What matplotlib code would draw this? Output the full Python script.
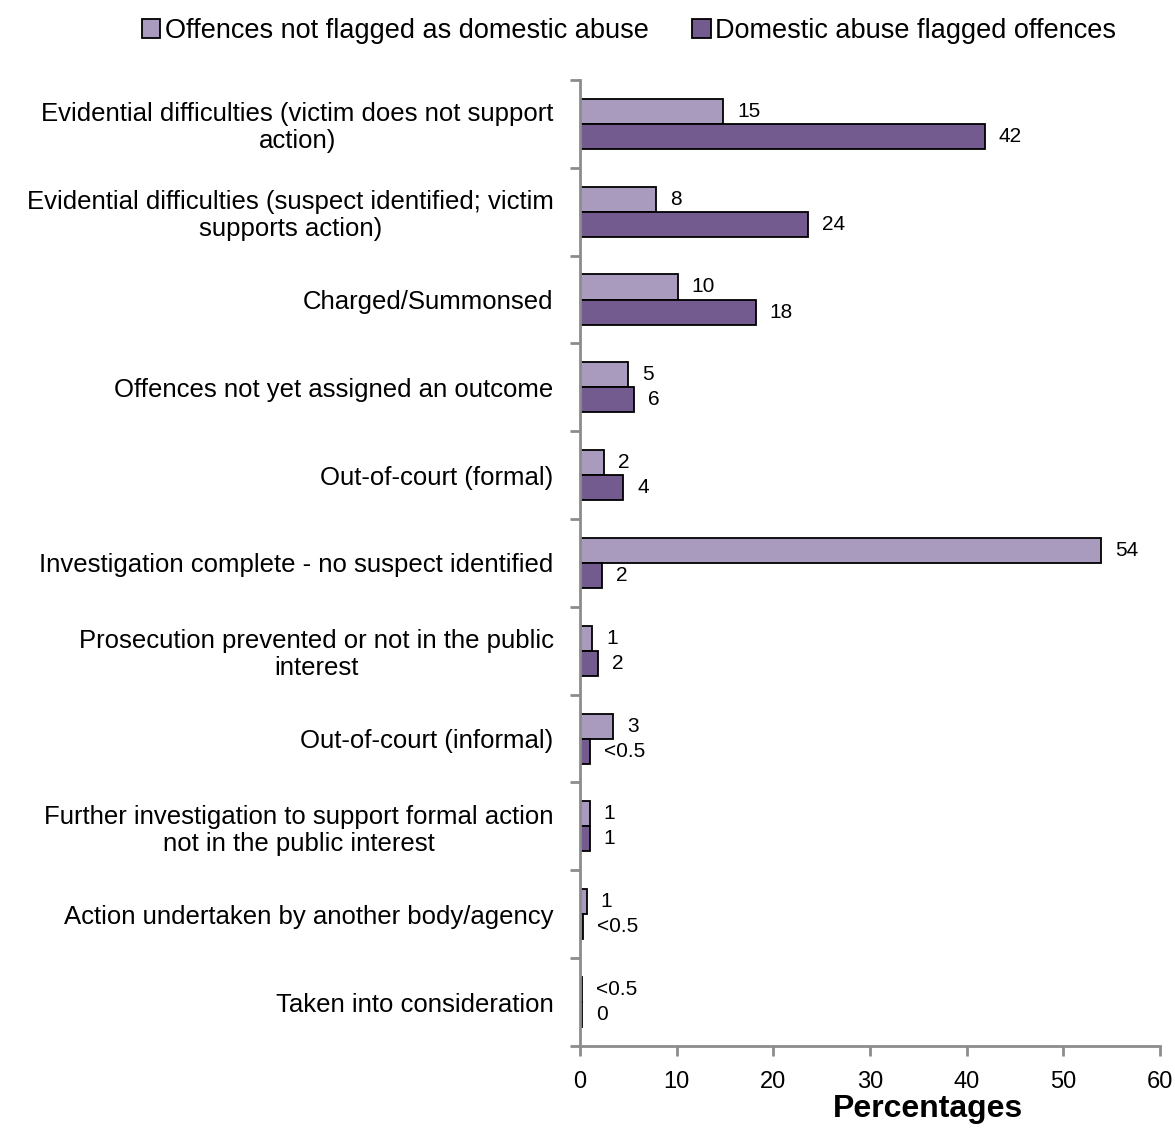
import numpy as np
import matplotlib
matplotlib.use("Agg")
import matplotlib.pyplot as plt
from matplotlib.patches import Patch

plt.rcParams['font.family'] = ['Liberation Sans', 'DejaVu Sans']

# Datos (porcentajes)
categories = [
    "Evidential difficulties (victim does not support\naction)",
    "Evidential difficulties (suspect identified; victim\nsupports action)",
    "Charged/Summonsed",
    "Offences not yet assigned an outcome",
    "Out-of-court (formal)",
    "Investigation complete - no suspect identified",
    "Prosecution prevented or not in the public\ninterest",
    "Out-of-court (informal)",
    "Further investigation to support formal action\nnot in the public interest",
    "Action undertaken by another body/agency",
    "Taken into consideration",
]
not_flagged = [14.8, 7.9, 10.1, 5.0, 2.5, 53.9, 1.25, 3.45, 1.0, 0.7, 0.25]
flagged = [41.9, 23.6, 18.2, 5.6, 4.5, 2.3, 1.85, 1.0, 1.0, 0.35, 0.22]
not_flagged_lbl = ["15", "8", "10", "5", "2", "54", "1", "3", "1", "1", "<0.5"]
flagged_lbl = ["42", "24", "18", "6", "4", "2", "2", "<0.5", "1", "<0.5", "0"]

series_names = ["Offences not flagged as domestic abuse", "Domestic abuse flagged offences"]
c_light = "#A99BBE"
c_dark = "#735A8F"
axis_grey = "#8C8C8C"

fig = plt.figure(figsize=(11.75, 11.31), dpi=100)
ax = fig.add_axes([0.4936, 0.0752, 0.9872 - 0.4936, 0.9293 - 0.0752])

y = np.arange(len(categories))
h = 0.285
b1 = ax.barh(y - h / 2, not_flagged, height=h, color=c_light, edgecolor="black", linewidth=1.3)
b2 = ax.barh(y + h / 2, flagged, height=h, color=c_dark, edgecolor="black", linewidth=1.3)

for bars, labels in ((b1, not_flagged_lbl), (b2, flagged_lbl)):
    for bar, lab in zip(bars, labels):
        ax.annotate(lab, (bar.get_width(), bar.get_y() + bar.get_height() / 2),
                    xytext=(10, 0), textcoords="offset points",
                    ha="left", va="center", fontsize=15)

ax.set_ylim(len(categories) - 0.5, -0.5)
ax.set_xlim(0, 60)
ax.set_xticks(range(0, 61, 10))
ax.set_yticks(y)
ax.set_yticklabels(categories, fontsize=18.5, multialignment="center", linespacing=1.15)
ax.set_yticks(np.arange(-0.5, len(categories), 1), minor=True)
ax.tick_params(axis="y", which="major", length=0, pad=19)
ax.tick_params(axis="y", which="minor", length=7, width=2, color=axis_grey, direction="out")
ax.tick_params(axis="x", length=7, width=2, color=axis_grey, direction="out", labelsize=17, pad=11)

for s in ("top", "right"):
    ax.spines[s].set_visible(False)
for s in ("left", "bottom"):
    ax.spines[s].set_color(axis_grey)
    ax.spines[s].set_linewidth(2)

ax.set_xlabel("Percentages", fontsize=23, fontweight="bold", labelpad=0)
ax.xaxis.set_label_coords(0.6, -0.05)

handles = [Patch(facecolor=c_light, edgecolor="black", linewidth=1.3),
           Patch(facecolor=c_dark, edgecolor="black", linewidth=1.3)]
fig.legend(handles, series_names, loc="center", bbox_to_anchor=(0.535, 0.973), ncol=2,
           frameon=False, fontsize=19.5, handlelength=0.7, handleheight=0.7,
           handletextpad=0.15, columnspacing=1.6)

fig.savefig("out.png", dpi=100)
